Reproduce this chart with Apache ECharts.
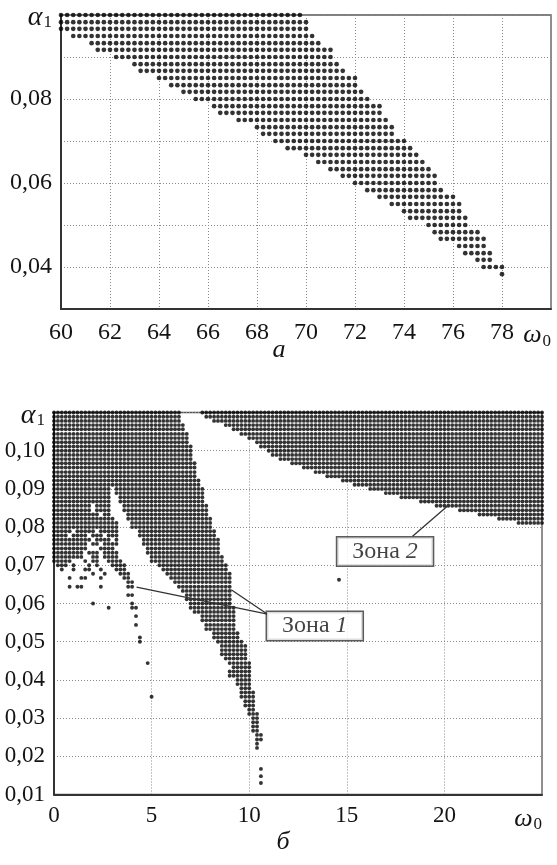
<!DOCTYPE html>
<html><head><meta charset="utf-8">
<script src="https://cdn.jsdelivr.net/npm/echarts@6/dist/echarts.min.js"></script>
<style>html,body{margin:0;padding:0;background:#fff}#c{width:557px;height:865px}</style>
</head><body><div id="c"></div>
<script>
// ---------- Panel а : rows of the computed grid [alpha, xStart, xEnd] ----------
const stepA = 0.25;
const rowsA = [
  [0.1000, 60, 69.75],[0.0983, 60, 70],[0.0967, 60, 70],[0.0950, 60.5, 70.25],
  [0.0933, 61.25, 70.5],[0.0917, 61.5, 71],[0.0900, 62.25, 71],[0.0883, 63, 71.25],
  [0.0867, 63.25, 71.5],[0.0850, 64, 72],[0.0833, 64.5, 72],[0.0817, 65, 72.25],
  [0.0800, 65.5, 72.5],[0.0783, 66.25, 73],[0.0767, 66.5, 73],[0.0750, 67.25, 73.25],
  [0.0733, 68, 73.5],[0.0717, 68.25, 73.5],[0.0700, 68.75, 74],[0.0683, 69.25, 74.25],
  [0.0667, 70, 74.5],[0.0650, 70.5, 74.75],[0.0633, 71, 75],[0.0617, 71.5, 75.25],
  [0.0600, 72, 75.25],[0.0583, 72.5, 75.5],[0.0567, 73, 76],[0.0550, 73.5, 76.25],
  [0.0533, 74, 76.25],[0.0517, 74.25, 76.5],[0.0500, 75, 76.5],[0.0483, 75.25, 77],
  [0.0467, 75.5, 77.25],[0.0450, 76.25, 77.25],[0.0433, 76.5, 77.5],[0.0417, 77, 77.5],
  [0.0400, 77.25, 78],[0.0383, 78, 78]
];

// ---------- Panel б : rows [alpha, start1, end1, start2, end2, ...] ----------
const stepB = 0.2;
const rowsB = [
  [0.1100, 0,6.4, 7.6,25],
  [0.1089, 0,6.4, 7.8,25],
  [0.1078, 0,6.4, 8.2,25],
  [0.1067, 0,6.6, 8.8,25],
  [0.1056, 0,6.6, 9.2,25],
  [0.1044, 0,6.8, 9.6,25],
  [0.1033, 0,6.8, 10.0,25],
  [0.1022, 0,6.8, 10.4,25],
  [0.1011, 0,7.0, 10.6,25],
  [0.1000, 0,7.0, 11.0,25],
  [0.0989, 0,7.0, 11.2,25],
  [0.0978, 0,7.0, 11.6,25],
  [0.0967, 0,7.2, 12.2,25],
  [0.0956, 0,7.2, 12.8,25],
  [0.0944, 0,7.2, 13.4,25],
  [0.0933, 0,7.2, 14.0,25],
  [0.0922, 0,7.4, 14.8,25],
  [0.0911, 0,7.4, 15.4,25],
  [0.0900, 0,2.8, 3.2,7.6, 16.2,25],
  [0.0889, 0,2.8, 3.2,7.6, 17.0,25],
  [0.0878, 0,2.8, 3.4,7.6, 17.8,25],
  [0.0867, 0,2.8, 3.4,7.6, 18.8,25],
  [0.0856, 0,1.8, 2.2,2.8, 3.6,7.8, 19.6,25],
  [0.0844, 0,1.8, 2.2,2.8, 3.6,7.8, 20.8,25],
  [0.0833, 0,1.8, 2.0,2.2, 2.6,2.8, 3.8,7.8, 21.8,25],
  [0.0822, 0,3.0, 3.8,8.0, 22.8,25],
  [0.0811, 0,3.2, 4.0,8.0, 23.8,25],
  [0.0800, 0,3.2, 4.0,8.0],
  [0.0789, 0,0.8, 1.2,2.0, 2.4,3.2, 4.4,8.2],
  [0.0778, 0,0.6, 1.0,1.6, 2.0,2.4, 2.8,3.2, 4.4,8.2],
  [0.0767, 0,1.8, 2.2,2.8, 3.2,3.2, 4.6,8.4],
  [0.0756, 0,1.6, 2.0,2.2, 2.6,3.2, 4.6,8.4],
  [0.0744, 0,1.6, 2.4,3.0, 4.8,8.4],
  [0.0733, 0,1.4, 1.8,2.2, 2.6,3.2, 4.8,8.4],
  [0.0722, 0,1.4, 2.0,2.2, 2.6,3.2, 5.0,8.6],
  [0.0711, 0,0.8, 1.6,1.6, 2.0,2.2, 2.8,3.4, 5.0,8.6],
  [0.0700, 0.2,0.6, 1.0,1.0, 1.8,1.8, 2.2,2.2, 3.0,3.6, 5.4,8.8],
  [0.0689, 0.4,0.4, 1.0,1.0, 1.6,1.8, 2.4,2.4, 3.2,3.6, 5.6,8.8],
  [0.0678, 2.0,2.0, 2.6,2.6, 3.4,3.8, 5.8,9.0],
  [0.0667, 0.8,0.8, 1.4,1.6, 2.4,2.4, 3.6,3.8, 6.0,9.0],
  [0.0656, 3.8,4.0, 6.2,9.0],
  [0.0644, 0.8,0.8, 1.2,1.4, 2.4,2.4, 3.8,4.0, 6.4,9.0],
  [0.0633, 6.6,9.0],
  [0.0622, 3.8,4.0, 6.8,9.0],
  [0.0611, 6.8,9.0],
  [0.0600, 2.0,2.0, 4.0,4.0, 7.0,9.0],
  [0.0589, 2.8,2.8, 4.0,4.2, 7.0,9.2],
  [0.0578, 7.2,9.2],
  [0.0567, 4.2,4.2, 7.6,9.2],
  [0.0556, 7.6,9.2],
  [0.0544, 4.2,4.2, 7.8,9.2],
  [0.0533, 7.8,9.2],
  [0.0522, 8.2,9.4],
  [0.0511, 4.4,4.4, 8.2,9.4],
  [0.0500, 4.4,4.4, 8.4,9.6],
  [0.0489, 8.6,9.8],
  [0.0478, 8.6,9.8],
  [0.0467, 8.6,9.8],
  [0.0456, 8.8,9.8],
  [0.0444, 4.8,4.8, 9.0,10.0],
  [0.0433, 9.2,10.0],
  [0.0422, 9.0,10.0],
  [0.0411, 9.0,10.0],
  [0.0400, 9.4,10.0],
  [0.0389, 9.4,10.0],
  [0.0378, 9.6,10.0],
  [0.0367, 9.6,10.2],
  [0.0356, 5.0,5.0, 9.6,10.2],
  [0.0344, 9.8,10.2],
  [0.0333, 9.8,10.2],
  [0.0322, 10.0,10.2],
  [0.0311, 10.0,10.4],
  [0.0300, 10.2,10.4],
  [0.0289, 10.2,10.4],
  [0.0278, 10.2,10.4],
  [0.0267, 10.2,10.4],
  [0.0256, 10.4,10.6],
  [0.0244, 10.4,10.6],
  [0.0233, 10.4,10.4],
  [0.0222, 10.4,10.4]
];
const singlesB = [[10.6,0.0167],[10.6,0.0148],[10.6,0.0130],[14.6,0.0662]];

// annotations (data coordinates of panel б)
const zone1Text = ['Зона ', '1'];
const zone2Text = ['Зона ', '2'];
const zone1Box = [13.36, 0.0541];
const zone2Box = [16.96, 0.0736];
const zone1From = [10.94, 0.0572];
const zone1Tips = [[4.23, 0.0643], [9.08, 0.0636]];
const zone2From = [18.37, 0.0776];
const zone2Tip = [20.25, 0.0859];

function expand(rows, step) {
  const out = [];
  rows.forEach(r => {
    const a = r[0];
    for (let i = 1; i < r.length; i += 2) {
      const n = Math.round((r[i + 1] - r[i]) / step);
      for (let j = 0; j <= n; j++) out.push([+(r[i] + j * step).toFixed(3), a]);
    }
  });
  return out;
}
const dataA = expand(rowsA, stepA);
const dataB = expand(rowsB, stepB).concat(singlesB);

const SERIF = '"Liberation Serif", "DejaVu Serif", serif';
const INK = '#141414';
const richAxis = {
  g: { fontFamily: SERIF, fontStyle: 'italic', fontSize: 28, color: INK, padding: [6, 0, 0, 0] },
  s: { fontFamily: SERIF, fontSize: 17, color: INK, padding: [16, 0, 0, 1] }
};
const richX = {
  g: { fontFamily: SERIF, fontStyle: 'italic', fontSize: 26, color: INK },
  s: { fontFamily: SERIF, fontSize: 17, color: INK, padding: [12, 0, 0, 1] }
};
const splitStyle = { show: true, lineStyle: { color: '#8a8a8a', width: 1, type: [1, 2] } };
const axLine = { show: true, onZero: false, lineStyle: { color: '#333', width: 2 } };

const option = {
  animation: false,
  backgroundColor: '#fff',
  grid: [
    { left: 61, top: 15, width: 490, height: 294, show: true, borderColor: '#555', borderWidth: 1.3 },
    { left: 54, top: 412.5, width: 488, height: 382, show: true, borderColor: '#555', borderWidth: 1.3 }
  ],
  xAxis: [
    { gridIndex: 0, type: 'value', min: 60, max: 80, interval: 2,
      axisLine: axLine, axisTick: { show: false }, splitLine: splitStyle,
      axisLabel: { margin: 12, fontFamily: SERIF, fontSize: 24, color: INK, showMaxLabel: true, alignMaxLabel: 'right',
        rich: richX, formatter: v => v === 80 ? '{g|ω}{s|0}' : String(v) } },
    { gridIndex: 1, type: 'value', min: 0, max: 25, interval: 5,
      axisLine: axLine, axisTick: { show: false }, splitLine: splitStyle,
      axisLabel: { margin: 10, fontFamily: SERIF, fontSize: 23, color: INK, showMaxLabel: true, alignMaxLabel: 'right',
        rich: richX, formatter: v => v === 25 ? '{g|ω}{s|0}' : String(v) } }
  ],
  yAxis: [
    { gridIndex: 0, type: 'value', min: 0.03, max: 0.10, interval: 0.01,
      axisLine: axLine, axisTick: { show: false }, splitLine: splitStyle,
      axisLabel: { margin: 9, fontFamily: SERIF, fontSize: 24, color: INK, showMaxLabel: true, rich: richAxis,
        formatter: v => { const n = Math.round(v * 100); if (n === 10) return '{g|α}{s|1}'; return n % 2 === 0 ? '0,' + String(n).padStart(2, '0') : ''; } } },
    { gridIndex: 1, type: 'value', min: 0.01, max: 0.11, interval: 0.01,
      axisLine: axLine, axisTick: { show: false }, splitLine: splitStyle,
      axisLabel: { margin: 9, fontFamily: SERIF, fontSize: 23, color: INK, showMaxLabel: true, rich: richAxis,
        formatter: v => { const n = Math.round(v * 100); if (n === 11) return '{g|α}{s|1}'; return '0,' + String(n).padStart(2, '0'); } } }
  ],
  series: [
    { type: 'scatter', xAxisIndex: 0, yAxisIndex: 0, data: dataA, symbolSize: 4.7, clip: false,
      itemStyle: { color: '#000' }, silent: true },
    { type: 'scatter', xAxisIndex: 1, yAxisIndex: 1, data: dataB, symbolSize: 3.9, clip: false,
      itemStyle: { color: '#000' }, silent: true,
      markLine: { silent: true, symbol: ['none', 'arrow'], symbolSize: [0, 9], label: { show: false },
        lineStyle: { color: '#333', width: 1.3, type: 'solid' },
        data: [
          [{ coord: zone1From }, { coord: zone1Tips[0] }],
          [{ coord: zone1From }, { coord: zone1Tips[1] }],
          [{ coord: zone2From }, { coord: zone2Tip }]
        ] } },
    { type: 'scatter', xAxisIndex: 1, yAxisIndex: 1, z: 10, symbolSize: 1, itemStyle: { color: 'transparent' },
      data: [
        { value: zone1Box, label: { formatter: '{t|' + zone1Text[0] + '}{i|' + zone1Text[1] + '}' } },
        { value: zone2Box, label: { formatter: '{t|' + zone2Text[0] + '}{i|' + zone2Text[1] + '}' } }
      ],
      label: { show: true, position: 'inside', backgroundColor: '#fff', borderColor: '#333', borderWidth: 1.5,
        padding: [2, 15, 2, 15],
        rich: { t: { fontFamily: SERIF, fontSize: 24, color: INK }, i: { fontFamily: SERIF, fontStyle: 'italic', fontSize: 24, color: INK } } } }
  ],
  graphic: [
    { type: 'text', x: 279, y: 350, style: { text: 'а', font: 'italic 26px "Liberation Serif"', fill: INK, textAlign: 'center', textVerticalAlign: 'middle' } },
    { type: 'text', x: 283, y: 842, style: { text: 'б', font: 'italic 26px "Liberation Serif"', fill: INK, textAlign: 'center', textVerticalAlign: 'middle' } }
  ]
};
const chart = echarts.init(document.getElementById('c'), null, { renderer: 'canvas' });
chart.setOption(option);
</script></body></html>
